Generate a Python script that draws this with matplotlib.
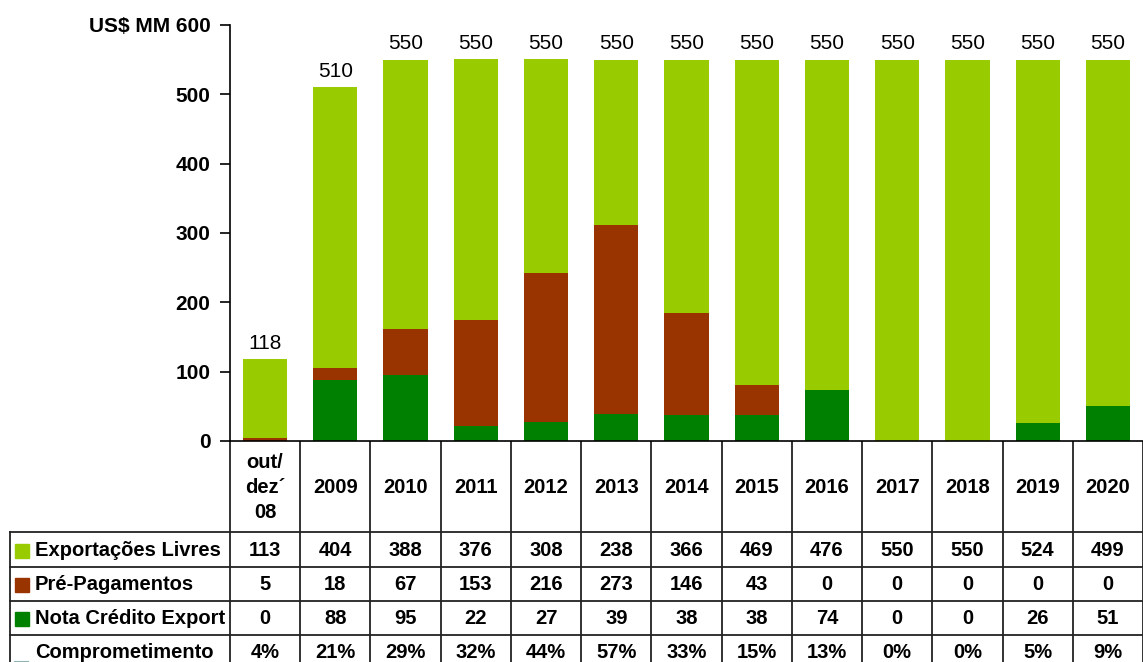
import matplotlib.pyplot as plt

plt.rcParams['font.family'] = ['Liberation Sans', 'DejaVu Sans']

# dados do gráfico
periodos = ["out/\ndez´\n08", "2009", "2010", "2011", "2012", "2013", "2014",
            "2015", "2016", "2017", "2018", "2019", "2020"]
exportacoes_livres = [113, 404, 388, 376, 308, 238, 366, 469, 476, 550, 550, 524, 499]
pre_pagamentos = [5, 18, 67, 153, 216, 273, 146, 43, 0, 0, 0, 0, 0]
nota_credito = [0, 88, 95, 22, 27, 39, 38, 38, 74, 0, 0, 26, 51]
totais = [118, 510, 550, 550, 550, 550, 550, 550, 550, 550, 550, 550, 550]
comprometimento = ["4%", "21%", "29%", "32%", "44%", "57%", "33%", "15%",
                   "13%", "0%", "0%", "5%", "9%"]
yticks = [0, 100, 200, 300, 400, 500, 600]
ytick_labels = ["0", "100", "200", "300", "400", "500", "US$ MM 600"]

cor_livres = '#99CC00'
cor_pre = '#993300'
cor_nce = '#008000'
cor_comp = '#8FB3B0'

W, H = 1143, 662
fig = plt.figure(figsize=(W / 100, H / 100), dpi=100)

# área do gráfico em pixels
x0, x1 = 230, 1143
y_zero, y_top = 441, 25
n = len(periodos)
colw = (x1 - x0) / n

ax = fig.add_axes([x0 / W, (H - y_zero) / H, (x1 - x0) / W, (y_zero - y_top) / H])
xs = list(range(n))
largura = 0.63
ax.bar(xs, nota_credito, largura, color=cor_nce)
base = nota_credito
ax.bar(xs, pre_pagamentos, largura, bottom=base, color=cor_pre)
base2 = [a + b for a, b in zip(nota_credito, pre_pagamentos)]
ax.bar(xs, exportacoes_livres, largura, bottom=base2, color=cor_livres)
for x, t in zip(xs, totais):
    ax.text(x, t + 9, str(t), ha='center', va='bottom', fontsize=15)

ax.set_xlim(-0.5, n - 0.5)
ax.set_ylim(0, 600)
ax.set_yticks(yticks)
ax.set_yticklabels(ytick_labels, fontsize=15, fontweight='bold')
ax.set_xticks([])
for s in ['top', 'right']:
    ax.spines[s].set_visible(False)
ax.spines['left'].set_linewidth(1.2)
ax.spines['bottom'].set_linewidth(1.2)
ax.tick_params(axis='y', length=7, width=1.2, pad=7)

# tabela abaixo do gráfico, em coordenadas de pixel
tb = fig.add_axes([0, 0, 1, 1], zorder=-1)
tb.set_xlim(0, W)
tb.set_ylim(H, 0)
tb.axis('off')

cab_bot = 532
linhas_y = [532, 567, 601, 635, 669]
lc = '#222222'
lw = 1.3

# linhas verticais do cabeçalho e da tabela
for i in range(n + 1):
    xv = x0 + i * colw
    tb.plot([xv, xv], [y_zero, H], color=lc, lw=lw)
tb.plot([10, 10], [cab_bot, H], color=lc, lw=lw)
for yv in linhas_y[:-1]:
    tb.plot([10, W], [yv, yv], color=lc, lw=lw)

for i, p in enumerate(periodos):
    tb.text(x0 + (i + 0.5) * colw, (y_zero + cab_bot) / 2 + 1, p, ha='center',
            va='center', fontsize=14.5, fontweight='bold', linespacing=1.4)

rotulos = ["Exportações Livres", "Pré-Pagamentos", "Nota Crédito Export", "Comprometimento"]
valores = [exportacoes_livres, pre_pagamentos, nota_credito, comprometimento]
cores = [cor_livres, cor_pre, cor_nce, None]
for r, (rot, vals, cor) in enumerate(zip(rotulos, valores, cores)):
    yc = (linhas_y[r] + linhas_y[r + 1]) / 2 + 1
    if cor is not None:
        tb.add_patch(plt.Rectangle((15, yc - 7), 13.5, 14, color=cor))
    else:
        tb.plot([15, 28], [yc + 9, yc + 9], color=cor_comp, lw=1.5)
    tb.text(35, yc, rot, ha='left', va='center', fontsize=14.5, fontweight='bold')
    for i, v in enumerate(vals):
        tb.text(x0 + (i + 0.5) * colw, yc, str(v), ha='center', va='center',
                fontsize=14.5, fontweight='bold')

fig.savefig('out.png', dpi=100)
